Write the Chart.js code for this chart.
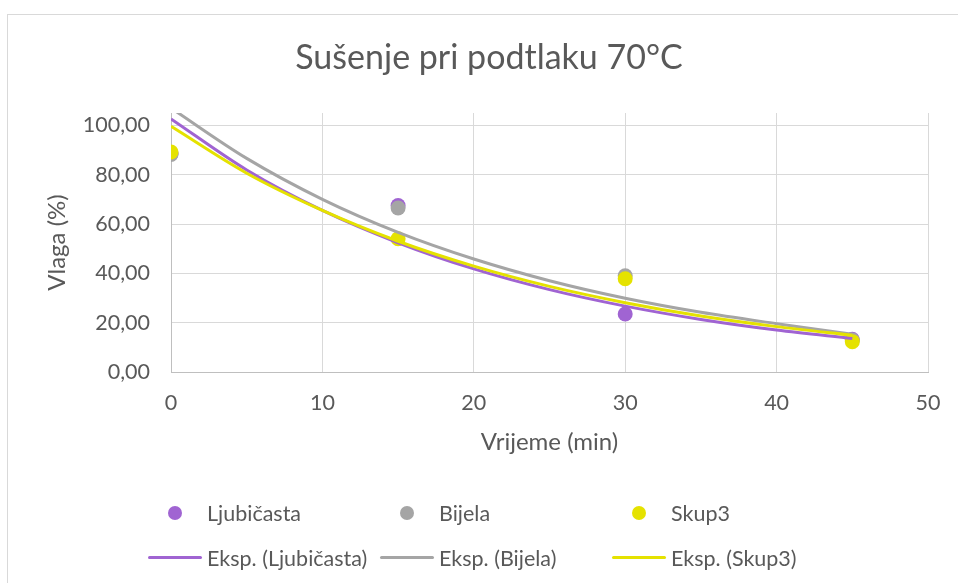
<!DOCTYPE html>
<html>
<head>
<meta charset="utf-8">
<title>Sušenje pri podtlaku 70°C</title>
<script src="https://cdn.jsdelivr.net/npm/chart.js"></script>
<style>
  body { margin: 0; width: 958px; height: 583px; overflow: hidden; background: #fff; font-family: Lato, sans-serif; }
  #okvir { position: absolute; left: 7px; top: 14px; width: 990px; height: 620px; border: 1px solid #d9d9d9; box-sizing: border-box; }
  #graf { position: absolute; left: 7px; top: 15px; }
  #legenda { position: absolute; left: 148px; top: 500px; display: grid; grid-template-columns: 232px 232px 232px; row-gap: 19px; }
  .stavka { display: flex; align-items: center; height: 26px; font-size: 21.5px; color: #595959; white-space: nowrap; }
  .simbol { position: relative; width: 54px; height: 26px; margin-right: 5px; flex: none; }
  .tocka { position: absolute; left: 20px; top: 6px; width: 14px; height: 14px; border-radius: 50%; }
  .crta { position: absolute; left: 0; top: 11px; width: 54px; height: 3px; border-radius: 2px; }
</style>
</head>
<body>
<div id="okvir"></div>
<canvas id="graf" width="964" height="575"></canvas>
<div id="legenda"></div>
<script>
// mjerenja (min, vlaga %)
const vrijeme = [0, 15, 30, 45];
const ljubicasta = [88.5, 67.5, 23.5, 13.3];
const bijela = [88.2, 66.5, 39.0, 13.0];
const skup3 = [89.2, 54.0, 37.8, 12.3];

// eksponencijalni trendovi, ocitano sa slike
const trendX = [0, 5, 10, 15, 20, 25, 30, 35, 40, 45];
const trendLjubicasta = [102.6, 81.9, 65.5, 52.4, 41.8, 33.4, 26.7, 21.3, 17.0, 13.6];
const trendBijela = [107.0, 86.6, 70.0, 56.6, 45.8, 37.0, 29.9, 24.2, 19.6, 15.3];
const trendSkup3 = [99.6, 80.6, 65.5, 53.0, 42.9, 34.7, 28.1, 22.7, 18.4, 14.9];

const xTicks = [0, 10, 20, 30, 40, 50];
const yTicks = [0, 20, 40, 60, 80, 100];

const boje = { ljubicasta: '#a064d2', bijela: '#a5a5a5', skup3: '#e5e200' };
const tekst = '#595959';

function parovi(xs, ys) {
  return xs.map((x, i) => ({ x: x, y: ys[i] }));
}

function tocke(label, ys, boja, order) {
  return {
    label: label,
    data: parovi(vrijeme, ys),
    backgroundColor: boja,
    borderColor: boja,
    pointRadius: 7.5,
    pointHoverRadius: 7.5,
    pointBorderWidth: 0,
    showLine: false,
    order: order,
    vrsta: 'tocka'
  };
}

function trend(label, ys, boja, order) {
  return {
    label: label,
    data: parovi(trendX, ys),
    borderColor: boja,
    backgroundColor: boja,
    borderWidth: 3,
    pointRadius: 0,
    showLine: true,
    cubicInterpolationMode: 'monotone',
    order: order,
    vrsta: 'crta'
  };
}

const ctx = document.getElementById('graf').getContext('2d');
const graf = new Chart(ctx, {
  type: 'scatter',
  data: {
    datasets: [
      tocke('Ljubičasta', ljubicasta, boje.ljubicasta, 6),
      tocke('Bijela', bijela, boje.bijela, 5),
      tocke('Skup3', skup3, boje.skup3, 4),
      trend('Eksp. (Ljubičasta)', trendLjubicasta, boje.ljubicasta, 3),
      trend('Eksp. (Bijela)', trendBijela, boje.bijela, 2),
      trend('Eksp. (Skup3)', trendSkup3, boje.skup3, 1)
    ]
  },
  options: {
    responsive: false,
    animation: false,
    layout: { padding: 0 },
    plugins: {
      legend: { display: false },
      tooltip: { enabled: false },
      title: {
        display: true,
        text: 'Sušenje pri podtlaku 70°C',
        color: tekst,
        font: { family: 'Lato', size: 34, weight: 'normal' },
        padding: { top: 23, bottom: 34.2 }
      }
    },
    scales: {
      x: {
        type: 'linear',
        min: 0,
        max: 50,
        afterBuildTicks: s => { s.ticks = xTicks.map(v => ({ value: v })); },
        afterFit: s => { s.height = 218; },
        grid: { color: '#d9d9d9', drawTicks: false },
        border: { color: '#bfbfbf', width: 1 },
        ticks: { color: tekst, padding: 18, font: { family: 'Lato', size: 21.5 } },
        title: {
          display: true,
          text: 'Vrijeme (min)',
          color: tekst,
          font: { family: 'Lato', size: 24 },
          padding: { top: 0, bottom: 133.6 }
        }
      },
      y: {
        type: 'linear',
        min: 0,
        max: 105,
        afterBuildTicks: s => { s.ticks = yTicks.map(v => ({ value: v })); },
        afterFit: s => { s.width = 164; },
        grid: { color: '#d9d9d9', drawTicks: false },
        border: { color: '#bfbfbf', width: 1 },
        ticks: {
          color: tekst,
          padding: 21,
          font: { family: 'Lato', size: 21.5 },
          callback: v => v.toFixed(2).replace('.', ',')
        },
        title: {
          display: true,
          text: 'Vlaga (%)',
          color: tekst,
          font: { family: 'Lato', size: 24 },
          padding: { top: 35.6, bottom: 0 }
        }
      },
      // prazan desni rub da naslov ostane centriran na cijeloj širini
      desno: {
        type: 'linear',
        position: 'right',
        display: true,
        afterFit: s => { s.width = 43; },
        grid: { display: false },
        border: { display: false },
        ticks: { display: false }
      }
    }
  }
});

// legenda u tri stupca kao u Excelu
const legenda = document.getElementById('legenda');
graf.data.datasets.forEach(ds => {
  const stavka = document.createElement('div');
  stavka.className = 'stavka';
  const simbol = document.createElement('span');
  simbol.className = 'simbol';
  const znak = document.createElement('span');
  znak.className = ds.vrsta;
  znak.style.background = ds.borderColor;
  simbol.appendChild(znak);
  const natpis = document.createElement('span');
  natpis.textContent = ds.label;
  stavka.appendChild(simbol);
  stavka.appendChild(natpis);
  legenda.appendChild(stavka);
});
</script>
</body>
</html>
